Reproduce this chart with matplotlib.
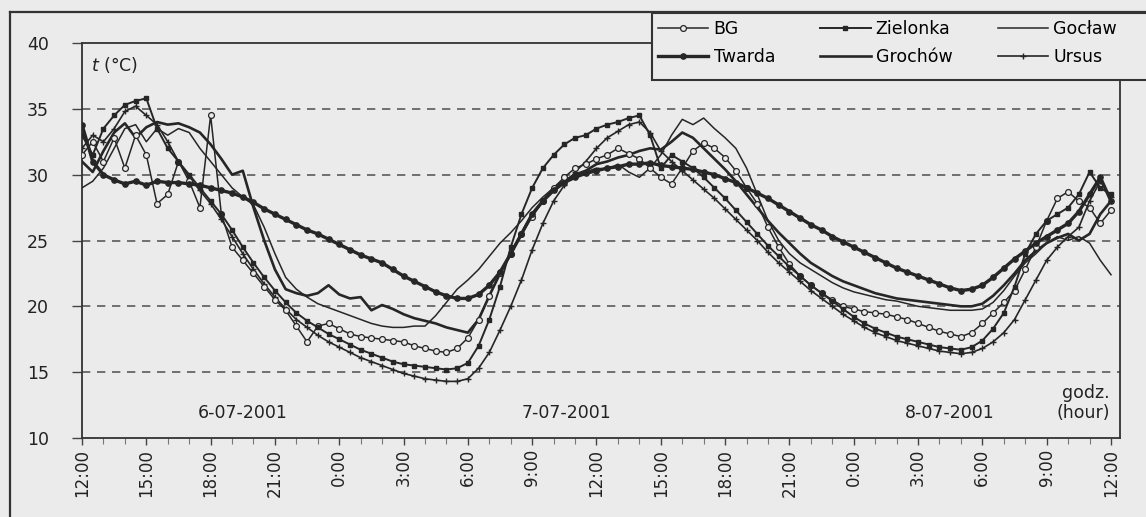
import numpy as np
import matplotlib
matplotlib.use("Agg")
import matplotlib.pyplot as plt
from matplotlib.lines import Line2D
from matplotlib.patches import Rectangle

plt.rcParams['font.family'] = ['DejaVu Sans']

# ---------------- data (half-hourly, 12:00 on 6-07-2001 = hour 0) ----------------
hours = np.arange(0, 48.5, 0.5)

bg = [31.5, 32.5, 31.0, 32.8, 30.5, 33.0, 31.5, 27.8, 28.5, 31.0,
      29.5, 27.5, 34.5, 27.0, 24.5, 23.5, 22.5, 21.5, 20.5, 19.7,
      18.5, 17.3, 18.5, 18.7, 18.3, 17.9, 17.7, 17.6, 17.5, 17.4,
      17.3, 17.0, 16.8, 16.6, 16.5, 16.8, 17.6, 19.0, 20.8, 22.5,
      24.0, 25.5, 26.8, 28.0, 29.0, 29.8, 30.5, 30.8, 31.2, 31.5,
      32.0, 31.6, 31.2, 30.5, 29.8, 29.3, 30.5, 31.8, 32.4, 32.0,
      31.3, 30.3, 29.0, 27.8, 26.0, 24.5, 23.2, 22.3, 21.6, 21.0,
      20.5, 20.0, 19.8, 19.6, 19.5, 19.4, 19.2, 19.0, 18.7, 18.4,
      18.1, 17.9, 17.7, 18.0, 18.7, 19.5, 20.3, 21.2, 22.8, 24.5,
      26.5, 28.2, 28.7, 28.0, 27.5, 26.3, 27.3]

zielonka = [33.0, 31.5, 33.5, 34.5, 35.3, 35.6, 35.8, 33.5, 32.0, 31.0,
            30.0, 29.0, 28.0, 27.0, 25.8, 24.5, 23.3, 22.2, 21.2, 20.3,
            19.5, 18.9, 18.4, 17.9, 17.5, 17.1, 16.7, 16.4, 16.1, 15.8,
            15.6, 15.5, 15.4, 15.3, 15.2, 15.3, 15.7, 17.0, 19.0, 21.5,
            24.5, 27.0, 29.0, 30.5, 31.5, 32.3, 32.8, 33.0, 33.5, 33.8,
            34.0, 34.3, 34.5, 33.0, 30.5, 31.5, 31.0, 30.5, 29.8, 29.0,
            28.2, 27.3, 26.4, 25.5, 24.6, 23.8, 23.0, 22.3, 21.6, 21.0,
            20.4, 19.8, 19.2, 18.7, 18.3, 18.0, 17.7, 17.5, 17.3, 17.1,
            16.9, 16.8, 16.7, 16.9, 17.4, 18.3, 19.5, 21.5, 24.0, 25.5,
            26.5, 27.0, 27.5, 28.5, 30.2, 29.0, 28.5]

goclaw = [29.0, 29.5, 30.5, 32.0, 33.5, 33.8, 32.5, 33.5, 33.0, 33.5,
          33.2, 32.0, 31.0, 30.0, 29.0, 28.3, 27.7, 26.0, 24.0, 22.2,
          21.3, 20.7, 20.2, 19.9, 19.6, 19.3, 19.0, 18.7, 18.5, 18.4,
          18.4, 18.5, 18.5, 19.3, 20.3, 21.3, 22.0, 22.8, 23.8, 24.8,
          25.6, 26.5, 27.5, 28.3, 29.0, 29.6, 30.0, 30.2, 30.5, 30.4,
          30.8, 30.2, 29.8, 30.5, 31.5, 33.0, 34.2, 33.8, 34.3, 33.5,
          32.8, 32.0, 30.5, 28.5, 26.5, 25.0, 24.0, 23.3, 22.8, 22.3,
          21.8, 21.4, 21.1, 20.9, 20.7, 20.5, 20.4, 20.2, 20.0, 19.9,
          19.8, 19.7, 19.7, 19.7, 19.8, 20.3, 21.2, 22.3, 23.3, 24.0,
          24.8, 25.3, 25.0, 25.3, 24.8, 23.5, 22.4]

twarda = [33.8, 31.0, 30.0, 29.6, 29.3, 29.5, 29.2, 29.5, 29.4, 29.4,
          29.3, 29.2, 29.0, 28.8, 28.6, 28.3, 27.9, 27.4, 27.0, 26.6,
          26.2, 25.8, 25.5, 25.1, 24.7, 24.3, 23.9, 23.6, 23.3, 22.8,
          22.3, 21.9, 21.5, 21.1, 20.8, 20.6, 20.6, 20.9, 21.6, 22.6,
          24.0, 25.5, 27.0, 28.0, 28.8, 29.4, 29.8, 30.1, 30.3, 30.5,
          30.6, 30.8, 30.8, 30.9, 30.7, 30.6, 30.5, 30.4, 30.2, 30.0,
          29.7, 29.4, 29.0, 28.6, 28.2, 27.7, 27.2, 26.7, 26.2, 25.8,
          25.3, 24.9, 24.5, 24.1, 23.7, 23.3, 22.9, 22.6, 22.3, 22.0,
          21.7, 21.4, 21.2, 21.3, 21.6, 22.2, 22.9, 23.6, 24.2, 24.8,
          25.3, 25.8, 26.3, 27.2, 28.5, 29.8, 28.0]

grochow = [31.0, 30.2, 31.8, 33.2, 33.9, 32.8, 33.6, 34.0, 33.8, 33.9,
           33.6, 33.2, 32.3, 31.2, 30.0, 30.3, 27.5, 25.0, 22.8, 21.3,
           21.0, 20.8, 21.0, 21.6, 20.9, 20.6, 20.7, 19.7, 20.1, 19.8,
           19.4, 19.1, 18.9, 18.7, 18.4, 18.2, 18.0, 19.0, 20.8, 22.5,
           24.0, 25.5, 27.0, 28.0, 29.0, 29.5, 30.0, 30.3, 30.8, 31.0,
           31.3, 31.5, 31.8, 32.0, 31.9, 32.5, 33.2, 32.8, 32.0, 31.2,
           30.4, 29.5, 28.5, 27.5, 26.5, 25.6, 24.8, 24.0, 23.3, 22.8,
           22.3, 21.9, 21.6, 21.3, 21.0, 20.8, 20.6, 20.5, 20.4, 20.3,
           20.2, 20.1, 20.0, 20.0, 20.2, 20.8, 21.6, 22.5, 23.5, 24.2,
           24.8, 25.2, 25.5, 25.0, 25.5, 27.0, 28.0]

ursus = [32.0, 33.0, 32.5, 33.5, 34.8, 35.2, 34.5, 33.8, 32.5, 31.0,
         29.8, 28.8, 27.8, 26.6, 25.3, 24.0, 22.8, 21.7, 20.7, 19.8,
         19.0, 18.4, 17.8, 17.3, 16.9, 16.5, 16.1, 15.8, 15.5, 15.2,
         14.9, 14.7, 14.5, 14.4, 14.3, 14.3, 14.5, 15.3, 16.5, 18.2,
         20.0, 22.0, 24.3, 26.3, 28.0, 29.2, 30.2, 31.0, 32.0, 32.8,
         33.3, 33.8, 34.0, 33.2, 31.8, 31.0, 30.3, 29.6, 28.9, 28.2,
         27.4, 26.6, 25.8, 25.0, 24.1, 23.3, 22.6, 21.9, 21.2, 20.6,
         20.0, 19.4, 18.9, 18.4, 18.0, 17.7, 17.4, 17.2, 17.0, 16.8,
         16.6, 16.5, 16.4, 16.5, 16.8, 17.3, 18.0, 19.0, 20.5, 22.0,
         23.5, 24.5, 25.3, 26.0, 28.0, 29.5, 28.3]

tick_hours = [0, 3, 6, 9, 12, 15, 18, 21, 24, 27, 30, 33, 36, 39, 42, 45, 48]
tick_labels = ["12:00", "15:00", "18:00", "21:00", "0:00", "3:00", "6:00", "9:00",
               "12:00", "15:00", "18:00", "21:00", "0:00", "3:00", "6:00", "9:00",
               "12:00"]
y_ticks = [10, 15, 20, 25, 30, 35, 40]
grid_levels = [15, 20, 25, 30, 35]
date_labels = ["6-07-2001", "7-07-2001", "8-07-2001"]
date_hours = [7.5, 22.6, 40.5]

# ---------------- figure ----------------
W, H = 1146, 517
BGC = '#ebebeb'
INK = '#262626'

fig = plt.figure(figsize=(W / 100, H / 100), dpi=100, facecolor=BGC)
ax = fig.add_axes([82 / W, 1 - 438 / H, (1120 - 82) / W, (438 - 43) / H], facecolor=BGC)
ax.set_xlim(0, 48.42)
ax.set_ylim(10, 40)

for g in grid_levels:
    ax.axhline(g, color='#5a5a5a', lw=1.2, ls=(0, (5, 4)), zorder=1)

styles = {
    'BG': dict(lw=1.1, marker='o', ms=4.2, mfc=BGC, mec=INK, mew=0.9),
    'Zielonka': dict(lw=1.4, marker='s', ms=2.8, mfc=INK, mec=INK),
    'Gocław': dict(lw=1.1),
    'Twarda': dict(lw=2.4, marker='o', ms=3.8, mfc=INK, mec=INK),
    'Grochów': dict(lw=1.9),
    'Ursus': dict(lw=1.2, marker='+', ms=4.5, mew=1.0, mec=INK),
}
series = {'BG': bg, 'Zielonka': zielonka, 'Gocław': goclaw,
          'Twarda': twarda, 'Grochów': grochow, 'Ursus': ursus}
handles = {}
for name in ['Gocław', 'Grochów', 'Ursus', 'BG', 'Zielonka', 'Twarda']:
    ln, = ax.plot(hours, series[name], color=INK, label=name, zorder=3,
                  **styles[name])
    handles[name] = ln

ax.set_xticks(tick_hours)
ax.set_xticklabels(tick_labels, rotation=90, fontsize=12)
ax.set_xticks(np.arange(0, 49, 1), minor=True)
ax.set_yticks(y_ticks)
ax.set_yticklabels([str(v) for v in y_ticks], fontsize=12.5)
ax.tick_params(axis='x', which='major', length=5, width=1, color='#444444',
               pad=3, labelcolor='#222222')
ax.tick_params(axis='x', which='minor', length=4, width=0.8, color='#777777')
ax.tick_params(axis='y', length=7, width=1, color='#444444', pad=17,
               labelcolor='#222222')
for sp in ax.spines.values():
    sp.set_color('#333333')
    sp.set_linewidth(1.3)

ax.text(0.009, 0.944, r'$t$ (°C)', transform=ax.transAxes, fontsize=12.5,
        ha='left', va='center', color='#222222')
for lab, hh in zip(date_labels, date_hours):
    ax.text(hh, 11.9, lab, ha='center', va='center', fontsize=12.5, color='#222222')
ax.text(47.95, 13.4, 'godz.', ha='right', va='center', fontsize=12.5, color='#222222')
ax.text(47.95, 11.9, '(hour)', ha='right', va='center', fontsize=12.5, color='#222222')

# outer frame (partially visible)
fig.add_artist(Line2D([10 / W, 10 / W], [0, 1 - 12 / H], transform=fig.transFigure,
                      color='#333333', lw=1.6))
fig.add_artist(Line2D([10 / W, 1], [1 - 12 / H, 1 - 12 / H], transform=fig.transFigure,
                      color='#333333', lw=1.6))

# legend box
box = Rectangle((652 / W, 1 - 80 / H), (W - 652) / W + 0.02, 67 / H,
                transform=fig.transFigure, fc=BGC, ec='#333333', lw=1.5, zorder=4)
fig.add_artist(box)
order = ['BG', 'Twarda', 'Zielonka', 'Grochów', 'Gocław', 'Ursus']
leg = fig.legend([handles[n] for n in order], order, ncol=3, loc='upper left',
                 bbox_to_anchor=(658 / W, 1 - 20 / H), frameon=False, fontsize=12.5,
                 handlelength=2.9, columnspacing=2.6, labelspacing=0.6,
                 handletextpad=0.3, numpoints=1, borderaxespad=0, borderpad=0)
leg.set_zorder(6)

fig.savefig('out.png', dpi=100, facecolor=BGC)
